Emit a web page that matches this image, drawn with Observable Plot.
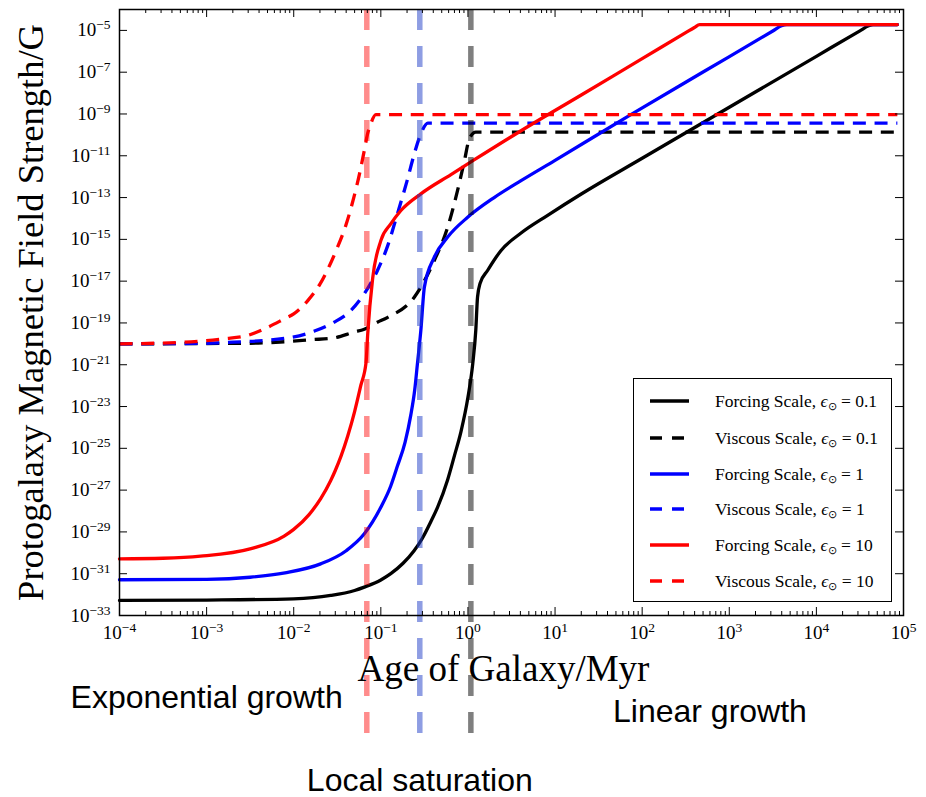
<!DOCTYPE html>
<html>
<head>
<meta charset="utf-8">
<script src="https://cdn.jsdelivr.net/npm/d3@7"></script>
<script src="https://cdn.jsdelivr.net/npm/@observablehq/plot@0.6"></script>
<style>
  body { margin: 0; background: #fff; }
  #wrap { position: relative; width: 926px; height: 797px; }
  #legend { position: absolute; left: 633px; top: 378px; width: 259px; height: 224px; box-sizing: border-box;
    border: 1.5px solid #000; background: #fff; font-family: "Liberation Serif", "Times New Roman", serif; font-size: 17.5px; color: #000; }
  #legend .row { position: absolute; left: 0; height: 22px; white-space: nowrap; }
  #legend .row svg { position: absolute; left: 16px; top: 7px; }
  #legend .row span { position: absolute; left: 81px; top: 0; line-height: 22px; }
  #legend sub { font-size: 11px; vertical-align: -3px; line-height: 0; }
</style>
</head>
<body>
<div id="wrap"></div>
<script>
// ---------------- data (age in Myr, field strength in G) ----------------
const forcingAge01 = [1e-4, 1e-3, 1e-2, 2.66e-2, 5e-2, 6.46e-2, 1e-1, 1.3e-1, 1.8e-1, 2.42e-1, 3.0e-1, 3.76e-1, 4.5e-1, 5.85e-1, 7.0e-1, 8.32e-1, 1.0, 1.135, 1.23, 1.288, 1.38, 1.68, 2.40, 4.07, 8.22, 20, 100, 1000, 1e4, 3.16e4, 3.98e4, 4.47e4, 8.5e4];
const forcingB01   = [5.25e-33, 5.5e-33, 6.3e-33, 9.1e-33, 1.58e-32, 2.29e-32, 5.0e-32, 1e-31, 3.16e-31, 1.29e-30, 5.0e-30, 3.16e-29, 1.58e-28, 3.16e-27, 4.47e-26, 6.31e-25, 2.75e-23, 1.1e-21, 4.37e-20, 1.7e-18, 7.94e-18, 3.24e-17, 2.95e-16, 2.0e-15, 1.41e-14, 1.48e-13, 7.6e-12, 2.09e-9, 5.75e-7, 9.55e-6, 1.66e-5, 1.9e-5, 1.9e-5];

const viscousAge01 = [1e-4, 3.16e-3, 8.51e-3, 1.58e-2, 2.88e-2, 4.9e-2, 6.46e-2, 9.12e-2, 1.2e-1, 2.42e-1, 4.11e-1, 5.85e-1, 7.59e-1, 9.12e-1, 1.035, 1.23, 8.5e4];
const viscousB01   = [1e-20, 1.07e-20, 1.29e-20, 1.58e-20, 1.91e-20, 3.63e-20, 5.01e-20, 1.07e-19, 1.86e-19, 1.7e-18, 9.77e-17, 3.8e-15, 2.14e-13, 5.89e-12, 6.31e-11, 1.35e-10, 1.35e-10];

const forcingAge1 = [1e-4, 1e-3, 3.16e-3, 7.94e-3, 2.04e-2, 4.0e-2, 6.46e-2, 1e-1, 1.3e-1, 1.55e-1, 1.9e-1, 2.21e-1, 2.45e-1, 2.63e-1, 2.88e-1, 3.16e-1, 4.11e-1, 5.85e-1, 1, 2.0, 4.07, 10, 74.1, 500, 3.16e3, 3.98e3, 4.57e3, 8.5e4];
const forcingB1   = [5.13e-32, 5.37e-32, 6.76e-32, 1.1e-31, 2.95e-31, 1.26e-30, 8.13e-30, 1.51e-28, 1.58e-27, 1.41e-26, 2.0e-25, 3.98e-24, 6.31e-23, 1.1e-21, 4.37e-20, 5.13e-18, 1.41e-16, 1.29e-15, 1.17e-14, 1.0e-13, 6.46e-13, 6.03e-12, 9.33e-10, 1.02e-7, 9.33e-6, 1.66e-5, 1.9e-5, 1.9e-5];

const viscousAge1 = [1e-4, 1e-3, 2.04e-3, 8.51e-3, 1.7e-2, 2.88e-2, 4.52e-2, 6.46e-2, 9.12e-2, 1.2e-1, 1.55e-1, 2.0e-1, 2.42e-1, 2.88e-1, 3.47e-1, 8.5e4];
const viscousB1   = [1e-20, 1.07e-20, 1.2e-20, 1.91e-20, 3.98e-20, 1.07e-19, 3.89e-19, 2.51e-18, 3.16e-17, 5.01e-16, 1.66e-14, 6.31e-13, 1.23e-11, 1.12e-10, 3.63e-10, 3.63e-10];

const forcingAge10 = [1e-4, 3.16e-4, 8.51e-4, 3.24e-3, 7.76e-3, 1e-2, 1.5e-2, 2.04e-2, 2.66e-2, 3.0e-2, 3.5e-2, 4.17e-2, 5.0e-2, 5.89e-2, 6.76e-2, 7.08e-2, 8.04e-2, 1e-1, 1.3e-1, 1.7e-1, 2.88e-1, 6.38e-1, 1.175, 4.07, 20, 100, 316, 398, 457, 8.5e4];
const forcingB10   = [5.13e-31, 5.5e-31, 6.9e-31, 1.58e-30, 6.31e-30, 1.32e-29, 6.76e-29, 3.89e-28, 2.88e-27, 8.71e-27, 4.37e-26, 3.89e-25, 5.75e-24, 1.02e-22, 1.26e-21, 3.16e-20, 1.26e-17, 8.71e-16, 5.5e-15, 2.4e-14, 1.51e-13, 1.26e-12, 6.31e-12, 1.58e-10, 8.13e-9, 4.47e-7, 7.76e-6, 1.38e-5, 1.9e-5, 1.9e-5];

const viscousAge10 = [1e-4, 5.5e-4, 1.58e-3, 2.95e-3, 4.57e-3, 7.76e-3, 1.0e-2, 1.45e-2, 2.0e-2, 3.02e-2, 4.0e-2, 4.9e-2, 5.7e-2, 6.46e-2, 7.0e-2, 7.67e-2, 8.77e-2, 8.5e4];
const viscousB10   = [1e-20, 1.2e-20, 1.74e-20, 2.51e-20, 5.13e-20, 1.55e-19, 2.69e-19, 1.17e-18, 7.24e-18, 2.51e-16, 5.25e-15, 1.02e-13, 1.41e-12, 1.78e-11, 1e-10, 3.39e-10, 9.33e-10, 9.33e-10];

// local saturation ages (vertical markers)
const saturationAges = [0.069, 0.28, 1.08];

// legend
const legendScales = ["Forcing Scale", "Viscous Scale", "Forcing Scale", "Viscous Scale", "Forcing Scale", "Viscous Scale"];
const legendEps = ["0.1", "0.1", "1", "1", "10", "10"];

// tick exponents
const xTickExps = [-4, -3, -2, -1, 0, 1, 2, 3, 4, 5];
const yTickExps = [-33, -31, -29, -27, -25, -23, -21, -19, -17, -15, -13, -11, -9, -7, -5];

// annotations
const annotationTexts = ["Exponential growth", "Linear growth", "Local saturation"];
const annotationAges = [1e-3, 6e2, 0.28];

// ---------------- styling ----------------
const SERIF = '"Liberation Serif", "Times New Roman", serif';
const SANS = '"Liberation Sans", Arial, sans-serif';
const W = 926, H = 797, mL = 119, mR = 23, mT = 9, mB = 182;
const plotW = W - mL - mR, plotH = H - mT - mB;

const series = [
  {age: forcingAge01, B: forcingB01, color: "#000000", dashed: false},
  {age: viscousAge01, B: viscousB01, color: "#000000", dashed: true},
  {age: forcingAge1, B: forcingB1, color: "#0000ff", dashed: false},
  {age: viscousAge1, B: viscousB1, color: "#0000ff", dashed: true},
  {age: forcingAge10, B: forcingB10, color: "#ff0000", dashed: false},
  {age: viscousAge10, B: viscousB10, color: "#ff0000", dashed: true}
];
const satColors = ["#ff0000", "#1e3cc8", "#000000"];
const satOpacity = [0.45, 0.5, 0.5];

const xMinor = [];
for (let e = -4; e < 5; e++) for (let k = 2; k <= 9; k++) xMinor.push(k * 10 ** e);
const xMajor = xTickExps.map(e => 10 ** e);
const yMajor = yTickExps.map(e => 10 ** e);

const marks = [];
series.forEach(s => {
  marks.push(Plot.line(s.age.map((a, i) => ({a, b: s.B[i]})), {
    x: "a", y: "b", stroke: s.color, strokeWidth: 3.3,
    strokeDasharray: s.dashed ? "13,8.7" : null,
    strokeLinecap: s.dashed ? "butt" : "round",
    curve: "monotone-x"
  }));
});
saturationAges.forEach((a, i) => {
  marks.push(Plot.ruleX([a], {x: d => d, stroke: satColors[i], strokeOpacity: satOpacity[i], strokeWidth: 5.5,
    strokeDasharray: "21,16", strokeLinecap: "butt", insetBottom: -126}));
});
// frame + inward ticks
marks.push(Plot.frame({stroke: "#000", strokeWidth: 1.5}));
marks.push(Plot.ruleX(xMajor, {x: d => d, insetTop: plotH - 8, stroke: "#000", strokeWidth: 1}));
marks.push(Plot.ruleX(xMajor, {x: d => d, insetBottom: plotH - 8, stroke: "#000", strokeWidth: 1}));
marks.push(Plot.ruleX(xMinor, {x: d => d, insetTop: plotH - 4, stroke: "#000", strokeWidth: 1}));
marks.push(Plot.ruleX(xMinor, {x: d => d, insetBottom: plotH - 4, stroke: "#000", strokeWidth: 1}));
marks.push(Plot.ruleY(yMajor, {y: d => d, insetRight: plotW - 8, stroke: "#000", strokeWidth: 1}));
marks.push(Plot.ruleY(yMajor, {y: d => d, insetLeft: plotW - 8, stroke: "#000", strokeWidth: 1}));
// tick labels
marks.push(Plot.text(xTickExps, {x: e => 10 ** e, text: e => "10^" + e, frameAnchor: "bottom", dy: 23,
  lineAnchor: "bottom", textAnchor: "middle", fontSize: 19, fontFamily: SERIF, fill: "#000"}));
marks.push(Plot.text(yTickExps, {y: e => 10 ** e, text: e => "10^" + e, frameAnchor: "left", dx: -9, textAnchor: "end",
  lineAnchor: "middle", fontSize: 19, fontFamily: SERIF, fill: "#000"}));
// axis labels
marks.push(Plot.text(["Age of Galaxy/Myr"], {frameAnchor: "bottom", dy: 65, dx: -8, lineAnchor: "bottom",
  textAnchor: "middle", fontSize: 37, fontFamily: SERIF, fill: "#000"}));
marks.push(Plot.text(["Protogalaxy Magnetic Field Strength/G"], {frameAnchor: "left", dx: -77, rotate: -90,
  lineAnchor: "bottom", textAnchor: "middle", fontSize: 36.5, fontFamily: SERIF, fill: "#000"}));
// annotations
const annDy = [92, 106, 175];
annotationTexts.forEach((t, i) => {
  marks.push(Plot.text([t], {x: () => annotationAges[i], frameAnchor: "bottom", dy: annDy[i], lineAnchor: "bottom",
    textAnchor: "middle", fontSize: 32, fontFamily: SANS, fill: "#000"}));
});

const chart = Plot.plot({
  width: W, height: H,
  marginLeft: mL, marginRight: mR, marginTop: mT, marginBottom: mB,
  x: {type: "log", domain: [1e-4, 1e5], axis: null},
  y: {type: "log", domain: [1e-33, 1e-4], axis: null},
  style: {background: "#fff", overflow: "visible"},
  marks
});

// superscript tick labels ("10^e" -> 10 with raised exponent)
chart.querySelectorAll("text").forEach(t => {
  const m = /^10\^(-?\d+)$/.exec(t.textContent);
  if (!m) return;
  while (t.firstChild) t.removeChild(t.firstChild);
  t.appendChild(document.createTextNode("10"));
  const ts = document.createElementNS("http://www.w3.org/2000/svg", "tspan");
  ts.setAttribute("dy", "-7");
  ts.setAttribute("font-size", "13.5");
  ts.textContent = m[1].replace("-", "\u2212");
  t.appendChild(ts);
});

const wrap = document.getElementById("wrap");
wrap.appendChild(chart);

// legend
const legend = document.createElement("div");
legend.id = "legend";
const rowCenters = [22, 59, 95, 130, 166, 202];
legendScales.forEach((s, i) => {
  const sr = series[i];
  const row = document.createElement("div");
  row.className = "row";
  row.style.top = (rowCenters[i] - 11) + "px";
  row.style.width = "255px";
  const len = sr.dashed ? 34 : 39;
  row.innerHTML = `<svg width="42" height="8"><line x1="0" x2="${len}" y1="4" y2="4" stroke="${sr.color}" stroke-width="3.3" ${sr.dashed ? 'stroke-dasharray="12,10"' : ''}/></svg>` +
    `<span>${s}, <i>\u03F5</i><sub>\u2299</sub> = ${legendEps[i]}</span>`;
  legend.appendChild(row);
});
wrap.appendChild(legend);
</script>
</body>
</html>
